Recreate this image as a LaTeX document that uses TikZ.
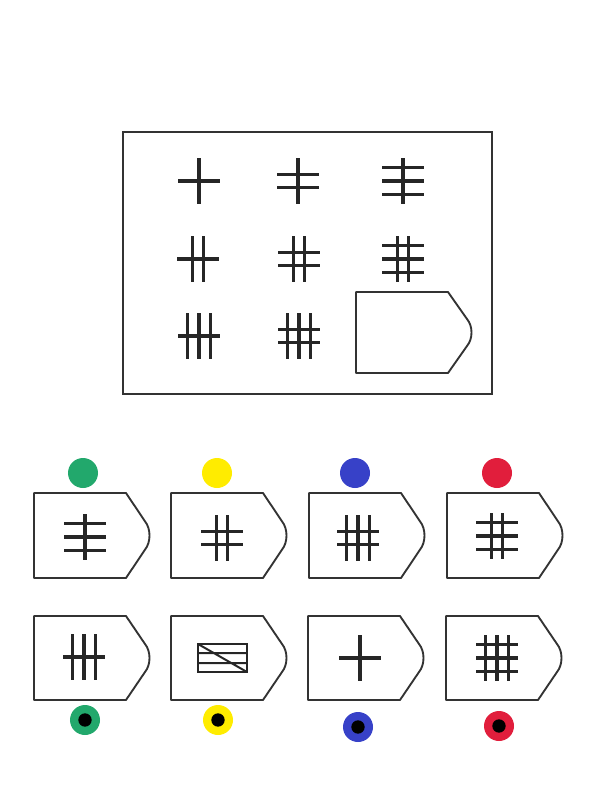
\documentclass[tikz,border=0pt]{standalone}
\usetikzlibrary{calc}

\definecolor{dotgreen}{RGB}{34,168,108}
\definecolor{dotyellow}{RGB}{255,236,0}
\definecolor{dotblue}{RGB}{55,65,200}
\definecolor{dotred}{RGB}{225,30,60}

% tally mark: centre x, centre y, number of vertical and of horizontal strokes
\newcommand{\tally}[4]{%
  \foreach \i in {1,...,#3}
    \draw[glyph] ({#1+(\i-(#3+1)/2)*11.5},{#2-23}) -- ++(0,46);
  \foreach \j in {1,...,#4}
    \draw[glyph] ({#1-21},{#2+(\j-(#4+1)/2)*13.5}) -- ++(42,0);
}
% answer card: left x, top y, height
\newcommand{\tagcard}[3]{%
  \draw[tag] (#1,#2) -- ({#1+92},#2) -- ({#1+111},{#2+#3/3})
    .. controls ({#1+117},{#2+#3*0.42}) and ({#1+117},{#2+#3*0.58}) .. ({#1+111},{#2+#3*2/3})
    -- ({#1+92},{#2+#3}) -- (#1,{#2+#3}) -- cycle;
}

\begin{document}
\begin{tikzpicture}[x=0.03cm, y=-0.03cm,
        frame/.style={draw=black!80, line width=1.7pt},
        tag/.style={draw=black!80, line width=1.6pt, line join=round},
        glyph/.style={draw=black!85, line width=2.8pt}
    ]
    \useasboundingbox (0,0) rectangle (600,800);

    % matrix
    \draw[frame] (123,132) rectangle (492,394);
    \tally{199}{181}{1}{1}
    \tally{298}{181}{1}{2}
    \tally{403}{181}{1}{3}
    \tally{198}{259}{2}{1}
    \tally{299}{259}{2}{2}
    \tally{403}{259}{2}{3}
    \tally{199}{336}{3}{1}
    \tally{299}{336}{3}{2}
    \tagcard{356}{292}{81}

    % upper row of answers
    \foreach \x/\c in {83/dotgreen, 217/dotyellow, 355/dotblue, 497/dotred}
        \fill[\c] (\x,473) circle (0.45cm);
    \tagcard{34}{493}{85}
    \tagcard{171}{493}{85}
    \tagcard{309}{493}{85}
    \tagcard{447}{493}{85}
    \tally{85}{537}{1}{3}
    \tally{222}{538}{2}{2}
    \tally{358}{538}{3}{2}
    \tally{497}{536}{2}{3}

    % lower row of answers
    \tagcard{34}{616}{84}
    \tagcard{171}{616}{84}
    \tagcard{308}{616}{84}
    \tagcard{446}{616}{84}
    \tally{84}{657}{3}{1}
    \draw[glyph, line width=2.2pt] (198,644) rectangle (247,672);
    \draw[glyph, line width=1.7pt] (198,653) -- (247,653) (198,663) -- (247,663) (198,644) -- (247,672);
    \tally{360}{658}{1}{1}
    \tally{497}{658}{3}{3}
    \foreach \x/\y/\c in {85/720/dotgreen, 218/720/dotyellow, 358/727/dotblue, 499/726/dotred} {
        \fill[\c] (\x,\y) circle (0.45cm);
        \fill[black] (\x,\y) circle (0.2cm);
    }
\end{tikzpicture}
\end{document}
